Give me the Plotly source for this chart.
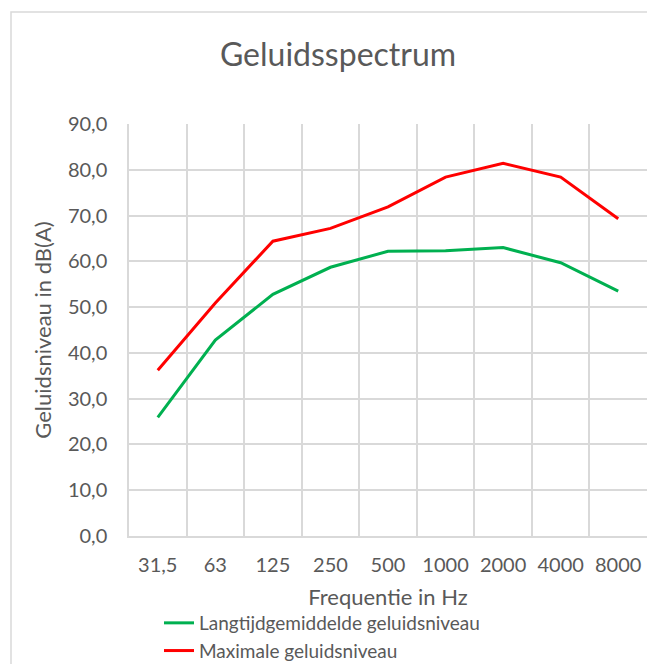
import plotly.graph_objects as go

frequencies = ["31,5", "63", "125", "250", "500", "1000", "2000", "4000", "8000"]
langtijd = [25.9, 42.8, 52.8, 58.7, 62.2, 62.3, 63.0, 59.7, 53.5]
maximaal = [36.2, 50.9, 64.4, 67.2, 71.9, 78.4, 81.4, 78.4, 69.3]

font_family = "Lato, 'Open Sans', sans-serif"
text_color = "#595959"
grid_color = "#D9D9D9"

W, H = 639, 656
L, R, T, B = 121, 0, 116, 128
PW, PH = W - L - R, H - T - B

fig = go.Figure()
fig.add_trace(go.Scatter(
    x=frequencies, y=langtijd, mode="lines",
    name="Langtijdgemiddelde geluidsniveau",
    line=dict(color="#00B050", width=3),
))
fig.add_trace(go.Scatter(
    x=frequencies, y=maximaal, mode="lines",
    name="Maximale geluidsniveau",
    line=dict(color="#FF0000", width=3),
))

fig.update_layout(
    width=W, height=H,
    margin=dict(l=L, r=R, t=T, b=B, pad=0, autoexpand=False),
    paper_bgcolor="white", plot_bgcolor="white",
    separators=",.",
    font=dict(family=font_family, color=text_color, size=20),
    title=dict(text="Geluidsspectrum", x=330 / W, xanchor="center",
               y=1 - 47 / H, yanchor="middle",
               font=dict(size=32, color=text_color, family=font_family)),
    showlegend=True,
    legend=dict(orientation="v", x=(151 - L) / PW, xanchor="left",
                y=(528 - 596) / PH, yanchor="top",
                font=dict(size=19, color=text_color), tracegroupgap=0,
                itemwidth=30, bgcolor="rgba(0,0,0,0)"),
    shapes=[dict(type="rect", xref="paper", yref="paper",
                 x0=(3 - L) / PW, x1=(W + 40 - L) / PW,
                 y0=(528 - H - 40) / PH, y1=(528 - 4) / PH,
                 line=dict(color="#D9D9D9", width=1.5), fillcolor="rgba(0,0,0,0)",
                 layer="below")],
)

fig.update_xaxes(
    type="category", tickson="boundaries", range=[-0.5, 8.5],
    showgrid=True, gridcolor=grid_color, gridwidth=1.5,
    showline=True, linecolor=grid_color, linewidth=1.5,
    ticks="", ticklabelstandoff=10, automargin=False,
    tickfont=dict(size=20, color=text_color),
    title=dict(text="Frequentie in Hz", font=dict(size=22, color=text_color), standoff=15),
    zeroline=False,
)
fig.update_yaxes(
    range=[0, 90], dtick=10, tick0=0, tickformat=".1f",
    showgrid=True, gridcolor=grid_color, gridwidth=1.5,
    showline=True, linecolor=grid_color, linewidth=1.5,
    ticks="", ticklabelstandoff=16, automargin=False,
    tickfont=dict(size=20, color=text_color),
    title=dict(text="Geluidsniveau in dB(A)", font=dict(size=22, color=text_color), standoff=10),
    zeroline=False,
)

fig.write_html("out.html")
